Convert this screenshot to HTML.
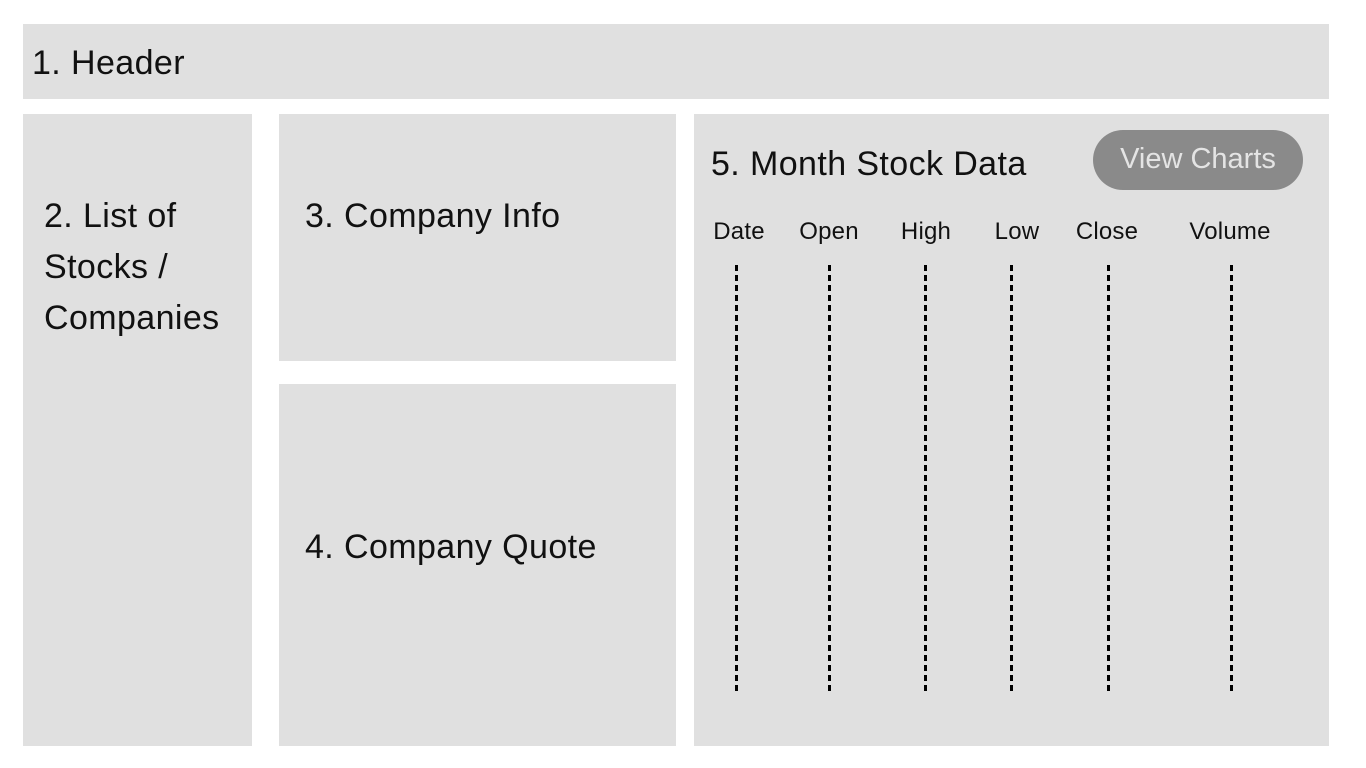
<!DOCTYPE html>
<html><head><meta charset="utf-8"><style>
body{margin:0;width:1366px;height:768px;background:#fff;position:relative;overflow:hidden;font-family:"Liberation Sans",sans-serif;color:#111}
.box{position:absolute;background:#e0e0e0}
.t{position:absolute;white-space:nowrap;font-size:34px;letter-spacing:0.4px}
.col{position:absolute;font-size:24px;top:218px;transform:translateX(-50%);letter-spacing:0.2px}
.dash{position:absolute;top:265px;height:426px;width:3px;background:repeating-linear-gradient(#000 0 6px,transparent 6px 10px)}
.btn{position:absolute;left:1093px;top:130px;width:210px;height:60px;border-radius:30px;background:#8a8a8a;color:#e4e4e4;font-size:29px;text-align:center;line-height:58px}
</style></head><body>
<div class="box" style="left:23px;top:24px;width:1306px;height:75px"></div>
<div class="t" style="left:32px;top:44px">1. Header</div>
<div class="box" style="left:23px;top:114px;width:229px;height:632px"></div>
<div class="t" style="left:44px;top:191px;line-height:51px">2. List of<br>Stocks /<br>Companies</div>
<div class="box" style="left:279px;top:114px;width:397px;height:247px"></div>
<div class="t" style="left:305px;top:197px">3. Company Info</div>
<div class="box" style="left:279px;top:384px;width:397px;height:362px"></div>
<div class="t" style="left:305px;top:528px">4. Company Quote</div>
<div class="box" style="left:694px;top:114px;width:635px;height:632px"></div>
<div class="t" style="left:711px;top:145px">5. Month Stock Data</div>
<div class="btn">View Charts</div>
<div class="col" style="left:739px">Date</div>
<div class="col" style="left:829px">Open</div>
<div class="col" style="left:926px">High</div>
<div class="col" style="left:1017px">Low</div>
<div class="col" style="left:1107px">Close</div>
<div class="col" style="left:1230px">Volume</div>
<div class="dash" style="left:735px"></div>
<div class="dash" style="left:828px"></div>
<div class="dash" style="left:924px"></div>
<div class="dash" style="left:1010px"></div>
<div class="dash" style="left:1107px"></div>
<div class="dash" style="left:1230px"></div>
</body></html>
